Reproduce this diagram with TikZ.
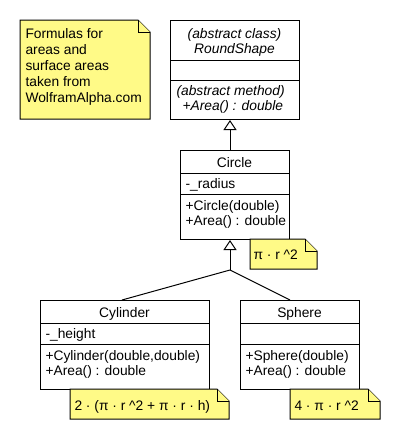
\documentclass[tikz,border=0pt]{standalone}
\usepackage{fontspec}
\setmainfont{Liberation Sans}
\usetikzlibrary{arrows.meta}
\definecolor{noteyellow}{RGB}{255,250,135}
\newcommand{\umlnotebox}[4]{%
  \filldraw[notestyle] (#1,#2) -- ({#3-12},#2) -- (#3,{#2+12}) -- (#3,#4) -- (#1,#4) -- cycle;
  \draw[notestyle] ({#3-12},#2) -- ({#3-12},{#2+12}) -- (#3,{#2+12});}
\newcommand{\caretsym}{\textasciicircum}
\begin{document}
\begin{tikzpicture}[x=1pt,y=-1pt,line width=1pt,
  classbox/.style={draw=black,fill=white,inner sep=0pt,anchor=north west},
  txt/.style={inner sep=0pt,anchor=base west,font=\fontsize{13.8}{15}\selectfont},
  ctxt/.style={txt,anchor=base},
  itxt/.style={txt,font=\fontsize{13.8}{15}\selectfont\itshape},
  citxt/.style={itxt,anchor=base},
  notestyle/.style={fill=noteyellow,draw=black,line join=miter},
  inherit/.style={-{Triangle[open,length=10pt,width=13pt]}}
]
\fill[white] (0,0) rectangle (400,440);
\useasboundingbox (0,0) rectangle (400,440);

% note
\umlnotebox{20}{20}{150}{119}
\node[txt] (n1a) at (25,38) {Formulas for};
\node[txt] (n1b) at (25,54) {areas and};
\node[txt] (n1c) at (25,70) {surface areas};
\node[txt] (n1d) at (25,86) {taken from};
\node[txt] (n1e) at (25,102) {WolframAlpha.com};

% abstract class
\node[classbox,minimum width=129pt,minimum height=99pt] (abs) at (170,20) {};
\draw (170,60) -- (299,60);
\draw (170,80) -- (299,80);
\node[citxt] (absa) at (234.5,38) {(abstract class)};
\node[citxt] (absb) at (234.5,53) {RoundShape};
\node[itxt] (absc) at (176,95) {(abstract method)};
\node[itxt] (absd) at (182,110) {+Area() : double};

% circle
\node[classbox,minimum width=109pt,minimum height=89pt] (circle) at (180,150) {};
\draw (180,173) -- (289,173);
\draw (180,194) -- (289,194);
\node[ctxt] (cira) at (234.5,167) {Circle};
\node[txt] (cirb) at (185,188) {-\_radius};
\node[txt] (circ) at (185,210) {+Circle(double)};
\node[txt] (cird) at (185,225) {+Area() : double};

% cylinder
\node[classbox,minimum width=169pt,minimum height=89pt] (cyl) at (40,300) {};
\draw (40,323) -- (209,323);
\draw (40,344) -- (209,344);
\node[ctxt] (cyla) at (124.5,317) {Cylinder};
\node[txt] (cylb) at (45,338) {-\_height};
\node[txt] (cylc) at (45,360) {+Cylinder(double,double)};
\node[txt] (cyld) at (45,375) {+Area() : double};

% sphere
\node[classbox,minimum width=119pt,minimum height=89pt] (sph) at (240,300) {};
\draw (240,323) -- (359,323);
\draw (240,344) -- (359,344);
\node[ctxt] (spha) at (299.5,317) {Sphere};
\node[txt] (sphc) at (245,360) {+Sphere(double)};
\node[txt] (sphd) at (245,375) {+Area() : double};

% notes with formulas
\umlnotebox{250}{239}{317}{269}
\node[txt] (f1) at (253,259) {π · r \caretsym2};
\umlnotebox{70}{389}{229}{419}
\node[txt] (f2) at (74,410) {2 · (π · r \caretsym2 + π · r · h)};
\umlnotebox{290}{389}{380}{419}
\node[txt] (f3) at (294,410) {4 · π · r \caretsym2};

% connectors
\coordinate (j) at (230,270);
\draw[inherit] (circle.north -| j) -- (abs.south -| j);
\draw[inherit] (j) -- (circle.south -| j);
\draw (cyl.north -| 122,0) -- (j);
\draw (sph.north -| 290,0) -- (j);
\end{tikzpicture}
\end{document}
